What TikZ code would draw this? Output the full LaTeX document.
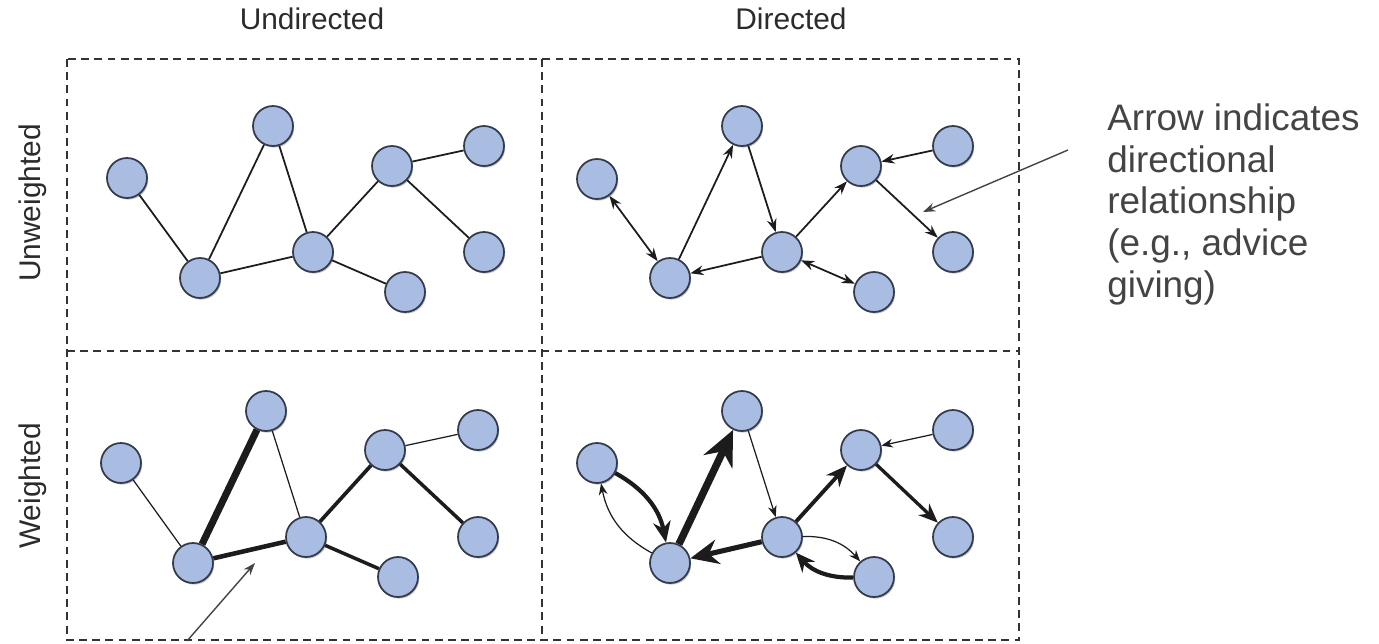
\documentclass[tikz,border=0pt]{standalone}
\usepackage{fontspec}
\setmainfont{Liberation Sans}
\usetikzlibrary{arrows.meta,shadows}
\definecolor{nodefill}{HTML}{A9BDE3}
\definecolor{nodeline}{HTML}{343B4C}
\definecolor{gridline}{HTML}{333333}
\definecolor{edgecol}{HTML}{1C1C1C}
\definecolor{textcol}{HTML}{444444}
\definecolor{labelcol}{HTML}{2B2B2B}
\begin{document}
\begin{tikzpicture}[x=0.02cm,y=0.02cm,
  vert/.style={circle, minimum size=0.8cm, inner sep=0pt, fill=nodefill, draw=nodeline, line width=1pt,
    drop shadow={shadow xshift=0.7pt, shadow yshift=-0.9pt, opacity=0.25, fill=black}},
  edge/.style={draw=edgecol, line width=1pt},
  sm/.style={-{Stealth[length=7.5pt,width=5.5pt]}},
  bi/.style={{Stealth[length=7.5pt,width=5.5pt]}-{Stealth[length=7.5pt,width=5.5pt]}},
  gridbox/.style={draw=gridline, line width=1.4pt, dash pattern=on 4.5pt off 3pt},
  colhead/.style={anchor=base, font=\fontsize{17}{20}\selectfont, text=labelcol, inner sep=0pt},
  rowhead/.style={anchor=base, rotate=90, font=\fontsize{17}{20}\selectfont, text=labelcol, inner sep=0pt},
  note/.style={anchor=base west, font=\fontsize{21}{25}\selectfont, text=textcol, inner sep=0pt},
  pointer/.style={draw=textcol, line width=0.8pt, -{Stealth[length=7pt,width=5pt]}},
]
\useasboundingbox (0,0) rectangle (1379,-643);

% grid
\draw[gridbox] (67,-59) rectangle (1019,-640);
\draw[gridbox] (542,-59) -- (542,-640);
\draw[gridbox] (67,-351) -- (1019,-351);

% headings
\node[colhead] (hu) at (312,-29) {Undirected};
\node[colhead] (hd) at (791,-29) {Directed};
\node[rowhead] (hunw) at (40,-203) {Unweighted};
\node[rowhead] (hw) at (40,-486) {Weighted};

% panel 1: undirected, unweighted
\node[vert] (a1) at (127,-178) {};
\node[vert] (b1) at (200,-278) {};
\node[vert] (c1) at (273,-126) {};
\node[vert] (d1) at (313,-252) {};
\node[vert] (e1) at (392,-166) {};
\node[vert] (f1) at (484,-146) {};
\node[vert] (g1) at (484,-252) {};
\node[vert] (h1) at (405,-292) {};
\draw[edge] (a1) -- (b1);
\draw[edge] (b1) -- (c1);
\draw[edge] (c1) -- (d1);
\draw[edge] (b1) -- (d1);
\draw[edge] (d1) -- (e1);
\draw[edge] (e1) -- (f1);
\draw[edge] (e1) -- (g1);
\draw[edge] (d1) -- (h1);

% panel 2: directed, unweighted
\node[vert] (a2) at (597,-179) {};
\node[vert] (b2) at (670,-278) {};
\node[vert] (c2) at (742,-126) {};
\node[vert] (d2) at (782,-252) {};
\node[vert] (e2) at (861,-166) {};
\node[vert] (f2) at (953,-146) {};
\node[vert] (g2) at (953,-252) {};
\node[vert] (h2) at (874,-292) {};
\draw[edge,bi] (a2) -- (b2);
\draw[edge,sm] (b2) -- (c2);
\draw[edge,sm] (c2) -- (d2);
\draw[edge,sm] (d2) -- (b2);
\draw[edge,sm] (d2) -- (e2);
\draw[edge,sm] (f2) -- (e2);
\draw[edge,sm] (e2) -- (g2);
\draw[edge,bi] (d2) -- (h2);

% panel 3: undirected, weighted
\node[vert] (a3) at (121,-463) {};
\node[vert] (b3) at (193,-563) {};
\node[vert] (c3) at (266,-411) {};
\node[vert] (d3) at (306,-537) {};
\node[vert] (e3) at (385,-450) {};
\node[vert] (f3) at (478,-430) {};
\node[vert] (g3) at (478,-537) {};
\node[vert] (h3) at (398,-577) {};
\draw[edge,line width=0.7pt] (a3) -- (b3);
\draw[edge,line width=4pt] (b3) -- (c3);
\draw[edge,line width=0.7pt] (c3) -- (d3);
\draw[edge,line width=2.6pt] (b3) -- (d3);
\draw[edge,line width=2.1pt] (d3) -- (e3);
\draw[edge,line width=0.7pt] (e3) -- (f3);
\draw[edge,line width=2pt] (e3) -- (g3);
\draw[edge,line width=2pt] (d3) -- (h3);

% panel 4: directed, weighted
\node[vert] (a4) at (597,-463) {};
\node[vert] (b4) at (670,-563) {};
\node[vert] (c4) at (742,-411) {};
\node[vert] (d4) at (782,-537) {};
\node[vert] (e4) at (861,-450) {};
\node[vert] (f4) at (953,-430) {};
\node[vert] (g4) at (953,-537) {};
\node[vert] (h4) at (874,-577) {};
\draw[edge,line width=2.4pt,-{Stealth[length=12pt,width=10pt]}] (a4) to[bend left=25] (b4);
\draw[edge,line width=0.7pt,-{Stealth[length=6.5pt,width=5pt]}] (b4) to[bend left=25] (a4);
\draw[edge,line width=4.2pt,-{Stealth[length=20pt,width=18pt]}] (b4) -- (c4);
\draw[edge,line width=0.7pt,-{Stealth[length=6.5pt,width=5pt]}] (c4) -- (d4);
\draw[edge,line width=2.9pt,-{Stealth[length=16pt,width=14pt]}] (d4) -- (b4);
\draw[edge,line width=2.2pt,-{Stealth[length=12pt,width=10pt]}] (d4) -- (e4);
\draw[edge,line width=0.7pt,-{Stealth[length=6.5pt,width=5pt]}] (f4) -- (e4);
\draw[edge,line width=1.9pt,-{Stealth[length=11pt,width=9pt]}] (e4) -- (g4);
\draw[edge,line width=0.7pt,-{Stealth[length=6.5pt,width=5pt]}] (d4) to[bend left=25] (h4);
\draw[edge,line width=2.4pt,-{Stealth[length=11pt,width=9.5pt]}] (h4) to[bend left=25] (d4);

% annotations
\node[note] (n1) at (1107,-130) {Arrow indicates};
\node[note] (n2) at (1107,-172) {directional};
\node[note] (n3) at (1107,-213) {relationship};
\node[note] (n4) at (1107,-255) {(e.g., advice};
\node[note] (n5) at (1107,-297) {giving)};
\coordinate (p1s) at (1068,-150);
\coordinate (p1e) at (923,-212);
\draw[pointer] (p1s) -- (p1e);
\coordinate (p2s) at (187,-641);
\coordinate (p2e) at (255,-563);
\draw[pointer] (p2s) -- (p2e);
\end{tikzpicture}
\end{document}
